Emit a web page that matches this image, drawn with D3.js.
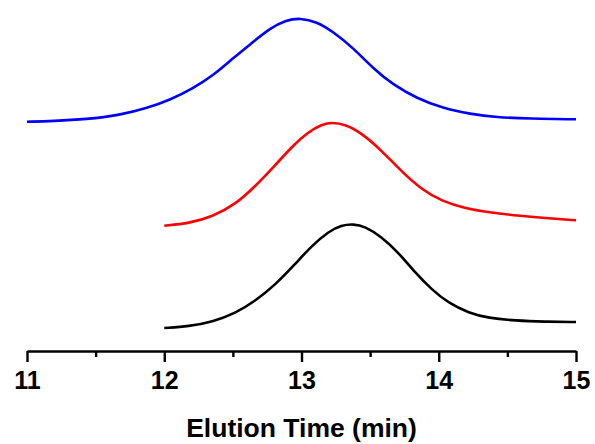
<!DOCTYPE html>
<html>
<head>
<meta charset="utf-8">
<script src="https://cdn.jsdelivr.net/npm/d3@7"></script>
<style>
  html, body { margin: 0; padding: 0; background: #fff; }
  svg { display: block; }
</style>
</head>
<body>
<svg id="chart" width="595" height="444"></svg>
<script>
// elution traces, stacked (a.u.)
const blueTime = [11.00, 11.19, 11.43, 11.68, 11.87, 12.04, 12.21, 12.36, 12.50, 12.65, 12.77, 12.89, 12.99, 13.11, 13.23, 13.38, 13.52, 13.67, 13.84, 14.03, 14.23, 14.42, 14.66, 15.00];
const blueSignal = [2.283, 2.29, 2.307, 2.35, 2.417, 2.50, 2.617, 2.75, 2.917, 3.083, 3.217, 3.30, 3.32, 3.283, 3.183, 3.017, 2.817, 2.65, 2.517, 2.417, 2.36, 2.327, 2.313, 2.307];

const redTime = [12.00, 12.18, 12.35, 12.52, 12.66, 12.81, 12.93, 13.05, 13.15, 13.22, 13.32, 13.44, 13.58, 13.73, 13.88, 14.02, 14.19, 14.36, 14.60, 14.80, 15.00];
const redSignal = [1.243, 1.267, 1.333, 1.457, 1.633, 1.85, 2.033, 2.183, 2.257, 2.277, 2.257, 2.167, 2.00, 1.783, 1.60, 1.49, 1.417, 1.377, 1.34, 1.317, 1.297];

const blackTime = [12.00, 12.18, 12.35, 12.52, 12.66, 12.81, 12.95, 13.07, 13.20, 13.29, 13.38, 13.46, 13.58, 13.71, 13.83, 13.95, 14.07, 14.22, 14.36, 14.56, 14.77, 15.00];
const blackSignal = [0.22, 0.237, 0.28, 0.37, 0.487, 0.653, 0.853, 1.037, 1.187, 1.247, 1.26, 1.237, 1.137, 0.97, 0.77, 0.603, 0.47, 0.37, 0.32, 0.293, 0.283, 0.28];

const majorTicks = [11, 12, 13, 14, 15];
const minorTicks = [11.5, 12.5, 13.5, 14.5];
const xTitle = "Elution Time (min)";

const series = [
  { time: blueTime, signal: blueSignal, color: "#0000ff" },
  { time: redTime, signal: redSignal, color: "#ff0000" },
  { time: blackTime, signal: blackSignal, color: "#000000" }
];

const svg = d3.select("#chart");
const axisY = 351;

const x = d3.scaleLinear().domain([11, 15]).range([27, 576]);
const y = d3.scaleLinear().domain([0, 3.5]).range([350, 0]);

// minor ticks first, then major ticks + line
svg.append("g")
  .attr("transform", `translate(0,${axisY})`)
  .call(d3.axisBottom(x).tickValues(minorTicks).tickSize(6).tickSizeOuter(0).tickFormat(""))
  .call(g => g.select(".domain").remove());

const ax = svg.append("g")
  .attr("transform", `translate(0,${axisY})`)
  .call(d3.axisBottom(x).tickValues(majorTicks).tickSize(11).tickSizeOuter(0).tickPadding(9).tickFormat(d3.format("d")));

svg.selectAll(".domain, .tick line")
  .attr("stroke", "#000")
  .attr("stroke-width", 2.4);

ax.selectAll(".tick text")
  .attr("fill", "#000")
  .style("font-family", "Liberation Sans, Arial, sans-serif")
  .style("font-weight", "bold")
  .style("font-size", "25px");

svg.append("text")
  .attr("x", x(13))
  .attr("y", 437)
  .attr("text-anchor", "middle")
  .style("font-family", "Liberation Sans, Arial, sans-serif")
  .style("font-weight", "bold")
  .style("font-size", "26.5px")
  .text(xTitle);

// basis smooths out small reading noise
const line = d3.line()
  .x(d => x(d[0]))
  .y(d => y(d[1]))
  .curve(d3.curveBasis);

series.forEach(s => {
  svg.append("path")
    .datum(d3.zip(s.time, s.signal))
    .attr("fill", "none")
    .attr("stroke", s.color)
    .attr("stroke-width", 2.6)
    .attr("stroke-linejoin", "round")
    .attr("d", line);
});
</script>
</body>
</html>
